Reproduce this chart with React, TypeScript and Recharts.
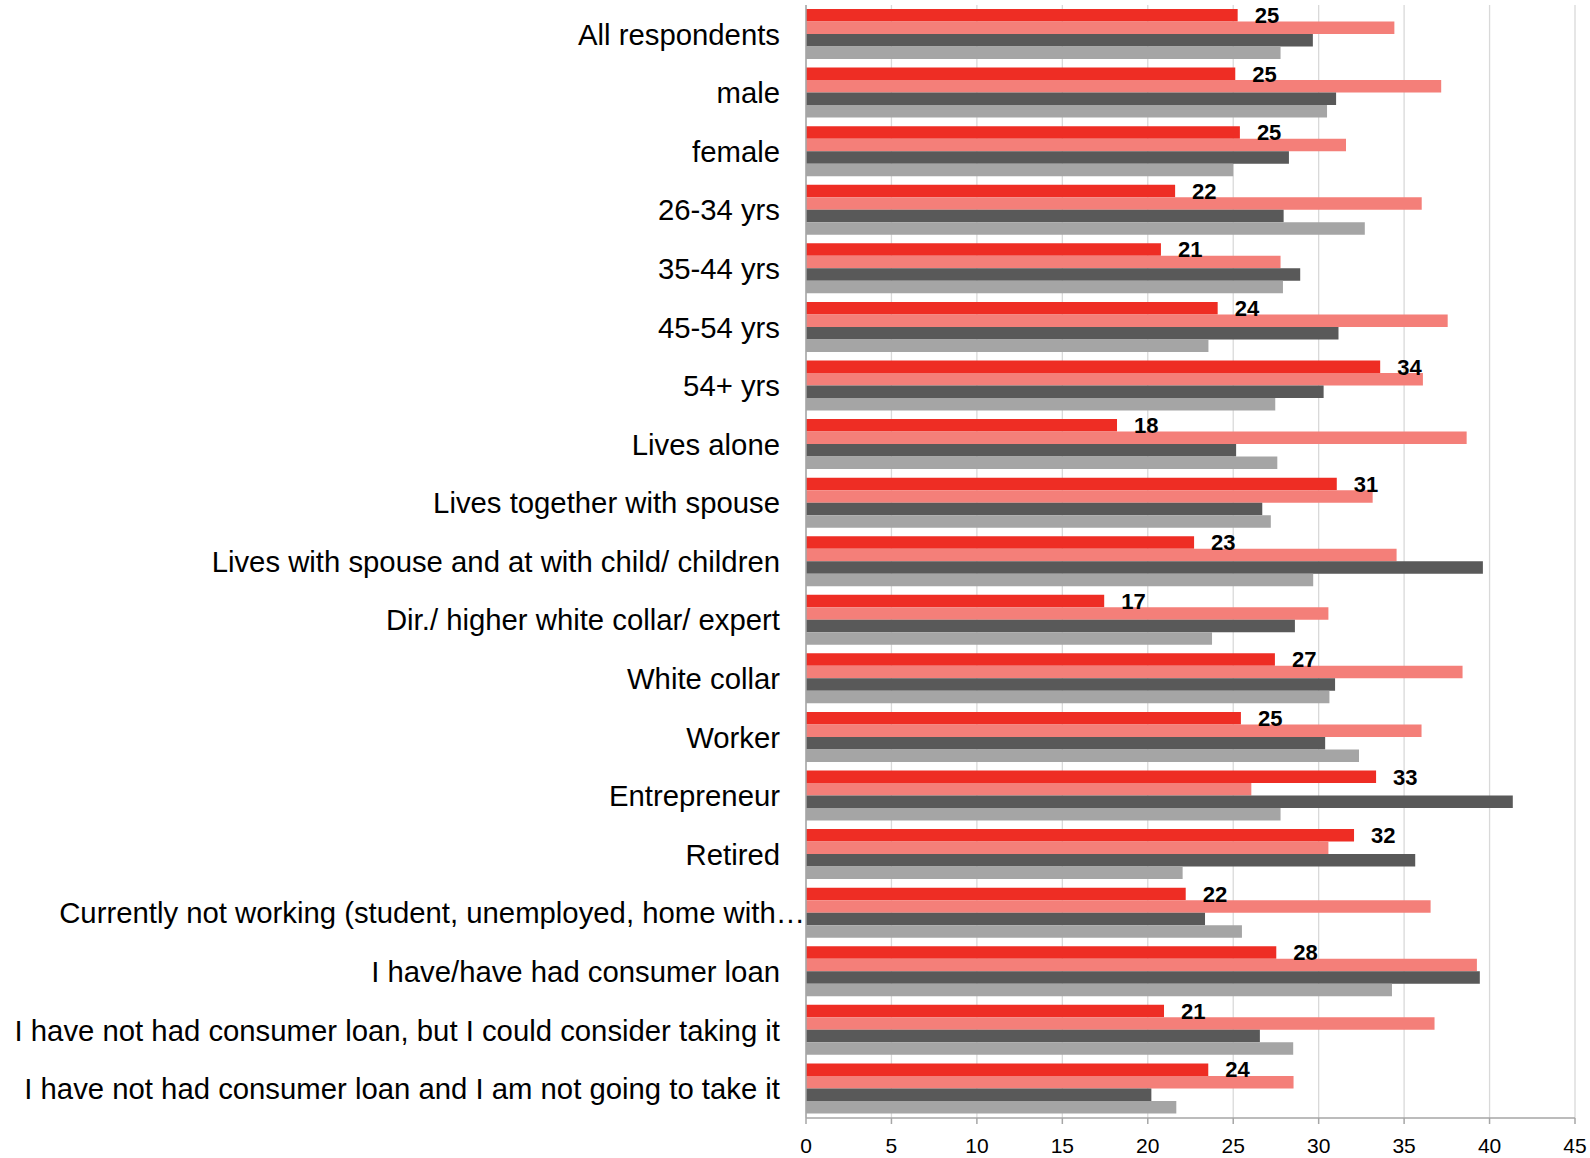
import React from "react";
import {
  BarChart,
  Bar,
  XAxis,
  YAxis,
  CartesianGrid,
  LabelList,
} from "recharts";

// Respondent groups, top to bottom
const categories: string[] = [
  "All respondents",
  "male",
  "female",
  "26-34 yrs",
  "35-44 yrs",
  "45-54 yrs",
  "54+ yrs",
  "Lives alone",
  "Lives together with spouse",
  "Lives with spouse and at with child/ children",
  "Dir./ higher white collar/ expert",
  "White collar",
  "Worker",
  "Entrepreneur",
  "Retired",
  "Currently not working (student, unemployed, home with…",
  "I have/have had consumer loan",
  "I have not had consumer loan, but I could consider taking it",
  "I have not had consumer loan and I am not going to take it",
];

// Four series per group (%)
const redValues: number[] = [
  25.26, 25.12, 25.39, 21.6, 20.77, 24.09, 33.6, 18.2, 31.06, 22.71, 17.45,
  27.44, 25.45, 33.36, 32.07, 22.22, 27.52, 20.95, 23.54,
];
const salmonValues: number[] = [
  34.43, 37.17, 31.6, 36.03, 27.77, 37.55, 36.1, 38.66, 33.16, 34.56, 30.57,
  38.42, 36.02, 26.06, 30.57, 36.55, 39.26, 36.78, 28.53,
];
const darkValues: number[] = [
  29.66, 31.02, 28.26, 27.95, 28.92, 31.16, 30.29, 25.17, 26.7, 39.61, 28.61,
  30.96, 30.38, 41.36, 35.65, 23.35, 39.43, 26.56, 20.21,
];
const lightValues: number[] = [
  27.77, 30.49, 25.0, 32.7, 27.91, 23.55, 27.46, 27.58, 27.2, 29.68, 23.76,
  30.63, 32.36, 27.77, 22.04, 25.51, 34.29, 28.51, 21.67,
];

const xTicks: number[] = [0, 5, 10, 15, 20, 25, 30, 35, 40, 45];

const data = categories.map((name, i) => ({
  name,
  red: redValues[i],
  salmon: salmonValues[i],
  dark: darkValues[i],
  light: lightValues[i],
}));

const FONT = "'Liberation Sans', Arial, Helvetica, sans-serif";
const AXIS_GREY = "#a6a6a6";

const CategoryTick = (props: any) => {
  const { x, y, payload } = props;
  const label: string = String(payload.value);
  // the clipped label runs right up to the axis line
  const shift = label.endsWith("…") ? 1 : 26;
  return (
    <text
      x={x - shift}
      y={y}
      dy="0.355em"
      textAnchor="end"
      fontSize={29.3}
      fontFamily={FONT}
      fill="#000"
    >
      {label}
    </text>
  );
};

const ValueLabel = (props: any) => {
  const box = props.viewBox ?? props;
  const x = Number(box.x ?? props.x);
  const y = Number(box.y ?? props.y);
  const width = Number(box.width ?? props.width);
  const height = Number(box.height ?? props.height);
  const value = Number(props.value);
  return (
    <text
      x={x + width + 17}
      y={y + height / 2}
      dy="0.355em"
      textAnchor="start"
      fontSize={22}
      fontWeight="bold"
      fontFamily={FONT}
      fill="#000"
    >
      {Math.round(value)}
    </text>
  );
};

export default function App() {
  return (
    <div style={{ position: "absolute", left: 0, top: 0, background: "#fff" }}>
      <BarChart
        width={1590}
        height={1158}
        data={data}
        layout="vertical"
        margin={{ top: 5, right: 15, bottom: 0, left: 0 }}
        barGap={0}
        barSize={12.5}
      >
        <CartesianGrid
          horizontal={false}
          vertical={true}
          stroke="#d9d9d9"
          strokeWidth={1.3}
        />
        <XAxis
          type="number"
          domain={[0, 45]}
          ticks={xTicks}
          interval={0}
          height={40}
          tickSize={6}
          tickMargin={14}
          axisLine={{ stroke: AXIS_GREY, strokeWidth: 1.5 }}
          tickLine={{ stroke: AXIS_GREY, strokeWidth: 1.5 }}
          tick={{ fontSize: 21, fill: "#000", fontFamily: FONT }}
        />
        <YAxis
          type="category"
          dataKey="name"
          width={806}
          interval={0}
          tickSize={0}
          tickMargin={0}
          tickLine={false}
          axisLine={{ stroke: AXIS_GREY, strokeWidth: 1.5 }}
          tick={<CategoryTick />}
        />
        <Bar dataKey="red" fill="#ee2d24" isAnimationActive={false}>
          <LabelList dataKey="red" content={<ValueLabel />} />
        </Bar>
        <Bar dataKey="salmon" fill="#f47f79" isAnimationActive={false} />
        <Bar dataKey="dark" fill="#595959" isAnimationActive={false} />
        <Bar dataKey="light" fill="#a5a5a5" isAnimationActive={false} />
      </BarChart>
    </div>
  );
}
